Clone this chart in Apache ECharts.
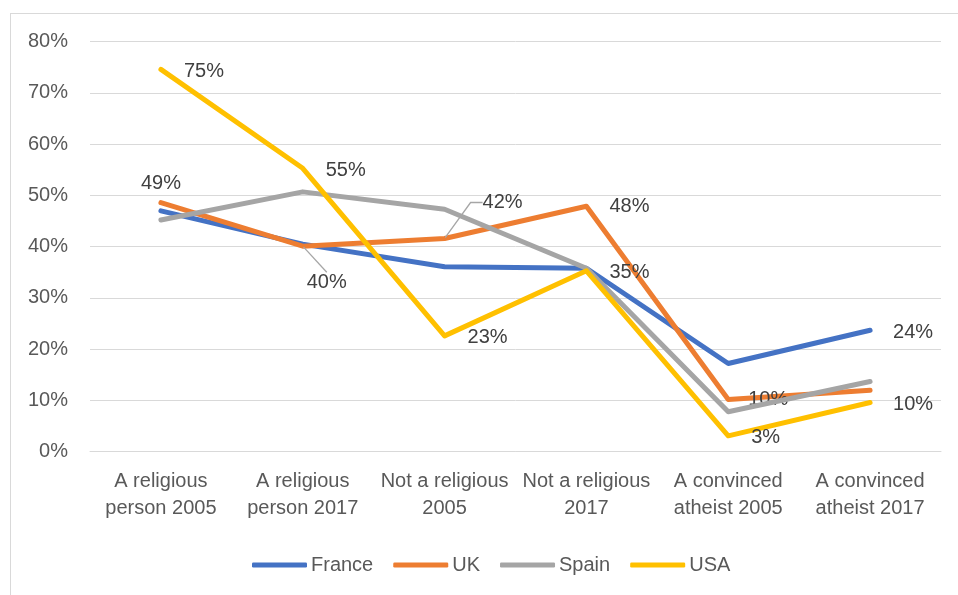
<!DOCTYPE html>
<html>
<head>
<meta charset="utf-8">
<script src="https://cdn.jsdelivr.net/npm/echarts@6/dist/echarts.min.js"></script>
<style>
  html, body { margin: 0; padding: 0; background: #ffffff; }
  #frame { position: absolute; left: 10px; top: 13px; width: 960px; height: 600px; border: 1px solid #d9d9d9; box-sizing: border-box; }
  #chart { position: absolute; left: 0; top: 0; width: 958px; height: 595px; }
</style>
</head>
<body>
<div id="frame"></div>
<div id="chart"></div>
<script>
// Share of respondents describing themselves in each way (percent)
const categories = [
  'A religious\nperson 2005',
  'A religious\nperson 2017',
  'Not a religious\n2005',
  'Not a religious\n2017',
  'A convinced\natheist 2005',
  'A convinced\natheist 2017'
];
const france = [47.0, 40.5, 36.1, 35.8, 17.2, 23.7];
const uk     = [48.6, 40.1, 41.6, 47.9, 10.2, 12.0];
const spain  = [45.2, 50.7, 47.3, 35.8, 7.8, 13.7];
const usa    = [74.6, 55.3, 22.6, 35.3, 3.1, 9.6];
const yTicks = { min: 0, max: 80, step: 10 };

// which points carry a value label, per series
const labelled = {
  France: [5],
  UK: [0, 1, 2, 3, 4],
  Spain: [],
  USA: [0, 1, 2, 3, 4, 5]
};

const FONT = 'Liberation Sans';
const pct = v => Math.round(v) + '%';

function points(name, values, opts) {
  return values.map((v, i) => {
    const item = { value: v };
    if (labelled[name].includes(i)) {
      const o = (opts && opts[i]) || {};
      item.label = Object.assign({
        show: true, position: 'right', distance: 22, offset: [0, 2],
        formatter: p => pct(p.value),
        color: '#404040', fontSize: 20, fontFamily: FONT
      }, o.label || {});
      if (o.labelLine) item.labelLine = o.labelLine;
    }
    return item;
  });
}

function lineSeries(name, color, data, z) {
  return {
    name, type: 'line', data, z,
    symbol: 'circle', symbolSize: 2, showSymbol: true,
    lineStyle: { color, width: 5, cap: 'round', join: 'round' },
    itemStyle: { color, borderWidth: 0 },
    emphasis: { disabled: true },
    animation: false
  };
}

const leaderStyle = { color: '#a6a6a6', width: 1.3 };

const series = [
  lineSeries('France', '#4472C4', points('France', france), 2),
  lineSeries('UK', '#ED7D31', points('UK', uk, {
    0: { label: { position: 'top', distance: 8, offset: [0, 0] } },
    1: { label: { distance: 5, offset: [0, 0] }, labelLine: { show: true, lineStyle: leaderStyle, length2: 0 } },
    2: { label: { distance: 5, offset: [0, 0] }, labelLine: { show: true, lineStyle: leaderStyle, length2: 12 } },
    4: { label: { distance: 19 } }
  }), 3),
  lineSeries('Spain', '#A5A5A5', points('Spain', spain), 4),
  lineSeries('USA', '#FFC000', points('USA', usa), 5)
];
// nudge the two UK labels that sit off their points, joined by leader lines
series[1].labelLayout = function (p) {
  if (p.dataIndex === 1) return { dx: -2, dy: 36, hideOverlap: false };
  if (p.dataIndex === 2) return { dx: 32, dy: -36, hideOverlap: false };
  return {};
};

const chart = echarts.init(document.getElementById('chart'), null, { renderer: 'canvas' });
chart.setOption({
  backgroundColor: 'transparent',
  textStyle: { fontFamily: FONT },
  grid: { left: 90, right: 17, top: 41.7, bottom: 143.3, containLabel: false },
  xAxis: {
    type: 'category',
    data: categories,
    boundaryGap: true,
    axisLine: { show: true, lineStyle: { color: '#d9d9d9', width: 1 } },
    axisTick: { show: false },
    axisLabel: {
      color: '#595959', fontSize: 20, fontFamily: FONT,
      lineHeight: 27, margin: 16, interval: 0
    }
  },
  yAxis: {
    type: 'value',
    min: yTicks.min, max: yTicks.max, interval: yTicks.step,
    axisLine: { show: false },
    axisTick: { show: false },
    splitLine: { lineStyle: { color: '#d9d9d9', width: 1 } },
    axisLabel: {
      color: '#595959', fontSize: 20, fontFamily: FONT, margin: 22,
      formatter: '{value}%'
    }
  },
  legend: {
    data: ['France', 'UK', 'Spain', 'USA'],
    left: 247, top: 550,
    icon: 'roundRect',
    itemWidth: 55, itemHeight: 5, itemGap: 20,
    textStyle: { color: '#595959', fontSize: 20, fontFamily: FONT, padding: [0, 0, 0, -1] },
    selectedMode: false
  },
  series
});
</script>
</body>
</html>
